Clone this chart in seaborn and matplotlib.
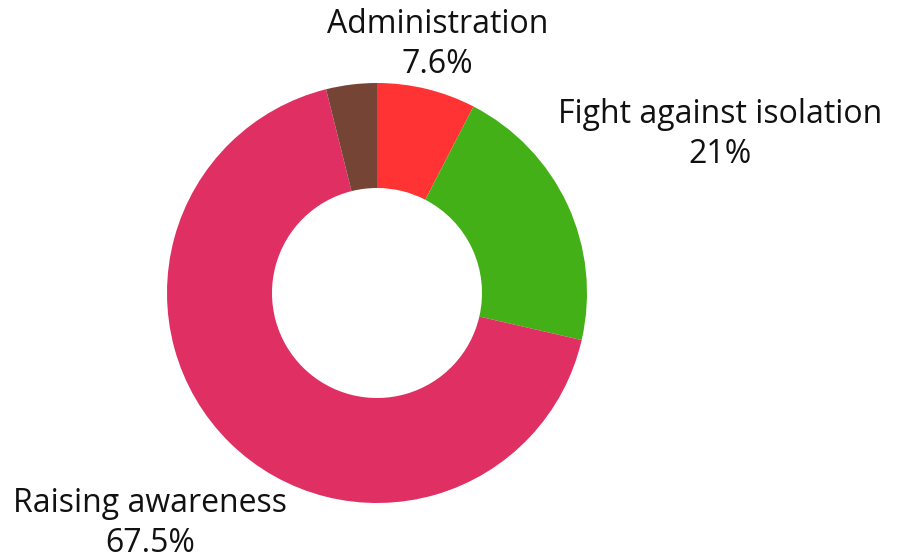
import numpy as np
import matplotlib
matplotlib.use('Agg')
import matplotlib.pyplot as plt
import seaborn as sns

# ── Datos ──────────────────────────────────────────────────────────────────────
categories = ["Administration", "Fight against isolation", "Raising awareness", "Other"]
values     = [7.6, 21, 67.5, 3.9]
colors     = ["#FF3333", "#44B017", "#DF2F63", "#754434"]
show_label = [True, True, True, False]
label_dist = [1.22, 1.80, 1.54, 1.3]

sns.set_theme(style="white")
plt.rcParams['font.family'] = ['Open Sans', 'DejaVu Sans']

W, H = 898, 559
fig = plt.figure(figsize=(W / 100, H / 100), dpi=100)
cx, cy, r = 377, 293, 210
ax = fig.add_axes([(cx - r) / W, (H - cy - r) / H, 2 * r / W, 2 * r / H])

wedges, _ = ax.pie(values, colors=colors, startangle=90, counterclock=False,
                   radius=1.0, wedgeprops=dict(width=0.5, linewidth=0))

for w, name, v, show, d in zip(wedges, categories, values, show_label, label_dist):
    if not show:
        continue
    ang = np.deg2rad((w.theta1 + w.theta2) / 2)
    ax.text(d * np.cos(ang), d * np.sin(ang), f"{name}\n{v:g}%",
            ha='center', va='center', fontsize=23, color='#111111',
            linespacing=1.28)

ax.set_xlim(-1, 1)
ax.set_ylim(-1, 1)
ax.set_aspect('equal')
ax.axis('off')

fig.savefig("out.png", dpi=100)
